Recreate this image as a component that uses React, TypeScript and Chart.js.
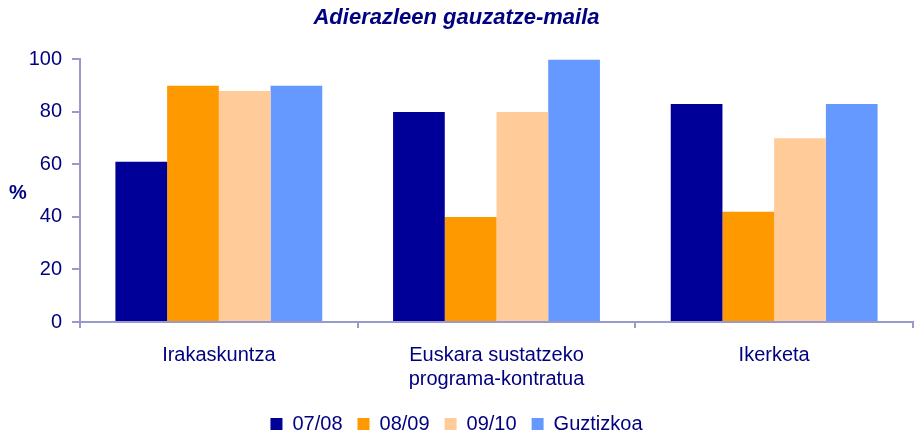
import React, { useEffect, useRef } from "react";
import { Chart, registerables } from "chart.js";

Chart.register(...registerables);

const categories: (string | string[])[] = [
  "Irakaskuntza",
  ["Euskara sustatzeko", "programa-kontratua"],
  "Ikerketa",
];
const seriesNames = ["07/08", "08/09", "09/10", "Guztizkoa"];
const values0708 = [61, 80, 83];
const values0809 = [90, 40, 42];
const values0910 = [88, 80, 70];
const valuesTotal = [90, 100, 83];
const seriesColors = ["#000099", "#FF9900", "#FFCC99", "#6699FF"];
const yTicks = [0, 20, 40, 60, 80, 100];

const FONT = "'Liberation Sans', Arial, sans-serif";
const TEXT = "#000080";
const AXIS = "#9999cc";

const pctLabel = {
  id: "pctLabel",
  afterDraw(chart: any) {
    const { ctx, chartArea } = chart;
    ctx.save();
    ctx.font = `bold 20px ${FONT}`;
    ctx.fillStyle = TEXT;
    ctx.textAlign = "center";
    ctx.textBaseline = "middle";
    ctx.fillText("%", 18, (chartArea.top + chartArea.bottom) / 2 + 3);
    ctx.restore();
  },
};

export default function App() {
  const ref = useRef<HTMLCanvasElement>(null);
  useEffect(() => {
    document.body.style.margin = "0";
    const seriesData = [values0708, values0809, values0910, valuesTotal];
    const chart = new Chart(ref.current!, {
      type: "bar",
      data: {
        labels: categories,
        datasets: seriesNames.map((name, i) => ({
          label: name,
          data: seriesData[i],
          backgroundColor: seriesColors[i],
          borderWidth: 0,
          barPercentage: 1,
          categoryPercentage: 0.745,
        })),
      },
      options: {
        animation: false,
        responsive: false,
        maintainAspectRatio: false,
        layout: { padding: { left: 0, right: 3, top: 0, bottom: -9 } },
        plugins: {
          title: {
            display: true,
            text: "Adierazleen gauzatze-maila",
            color: TEXT,
            font: { family: FONT, size: 22, weight: "bold", style: "italic" },
            padding: { top: 5, bottom: 28 },
          },
          legend: {
            position: "bottom",
            labels: {
              color: TEXT,
              font: { family: FONT, size: 20 },
              boxWidth: 12,
              boxHeight: 12,
              padding: 15,
            },
          },
          tooltip: { enabled: false },
        },
        scales: {
          x: {
            afterFit: (scale: any) => {
              scale.height -= 7;
            },
            grid: {
              offset: true,
              drawOnChartArea: false,
              drawTicks: true,
              tickLength: 6,
              color: AXIS,
              lineWidth: 2,
            },
            border: { color: AXIS, width: 2 },
            ticks: {
              color: TEXT,
              font: { family: FONT, size: 20 },
              padding: 15,
              maxRotation: 0,
            },
          },
          y: {
            min: 0,
            max: 100,
            afterBuildTicks: (scale: any) => {
              scale.ticks = yTicks.map((v) => ({ value: v }));
            },
            afterFit: (scale: any) => {
              scale.width = 80;
            },
            grid: {
              drawOnChartArea: false,
              drawTicks: true,
              tickLength: 8,
              color: AXIS,
              lineWidth: 2,
            },
            border: { color: AXIS, width: 2 },
            ticks: {
              color: TEXT,
              font: { family: FONT, size: 20 },
              padding: 10,
            },
          },
        },
      },
      plugins: [pctLabel],
    });
    return () => chart.destroy();
  }, []);
  return <canvas ref={ref} width={916} height={435} style={{ display: "block" }} />;
}
